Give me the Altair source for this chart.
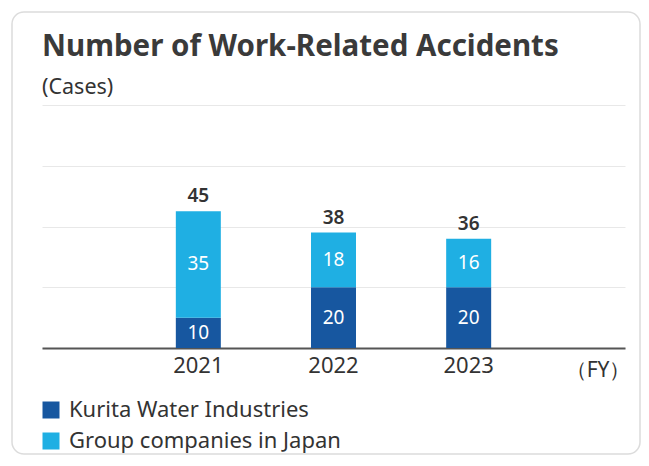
import altair as alt
import pandas as pd

years = ["2021", "2022", "2023"]
series = ["Kurita Water Industries", "Group companies in Japan"]
kurita = [10, 20, 20]
group = [35, 18, 16]
colors = ["#1757a0", "#1fafe3"]
title_text = "Number of Work-Related Accidents"
subtitle_text = "(Cases)"
unit_text = "（FY）"

rows = []
for i, y in enumerate(years):
    rows.append({"year": y, "series": series[0], "value": kurita[i], "ord": 0})
    rows.append({"year": y, "series": series[1], "value": group[i], "ord": 1})
df = pd.DataFrame(rows)

FONT = "Noto Sans"
W, H = 583, 243

xscale = alt.Scale(domain=years, paddingInner=0.667, paddingOuter=0.99)
yscale = alt.Scale(domain=[0, 80])

base = alt.Chart(df)

bars = base.mark_bar(size=45).encode(
    x=alt.X("year:N", scale=xscale, sort=years,
            axis=alt.Axis(title=unit_text, titleAngle=0, titleAlign="right", titleBaseline="middle",
                          titleX=W + 5, titleY=22, titleFontSize=21, titleFontWeight="normal",
                          titleColor="#333", titleFont=FONT,
                          labelAngle=0, labelFontSize=22, labelColor="#333", labelFont=FONT,
                          labelPadding=7, ticks=False, domainColor="#555", domainWidth=2)),
    y=alt.Y("value:Q", stack="zero", scale=yscale,
            axis=alt.Axis(title=None, labels=False, ticks=False, domain=False,
                          values=[0, 20, 40, 60, 80], gridColor="#e8e8e8", gridWidth=1)),
    color=alt.Color("series:N", scale=alt.Scale(domain=series, range=colors),
                    legend=alt.Legend(title=None, orient="none", legendX=-2, legendY=294,
                                      symbolType="square", symbolSize=289, symbolStrokeWidth=0,
                                      labelFontSize=22, labelFont=FONT, labelColor="#333",
                                      labelLimit=0, rowPadding=9, labelOffset=7)),
    order=alt.Order("ord:Q", sort="ascending"),
)

inner = base.transform_stack(
    stack="value", groupby=["year"], as_=["y0", "y1"],
    sort=[alt.SortField("ord", order="ascending")]
).transform_calculate(mid="(datum.y0 + datum.y1) / 2").mark_text(
    color="white", fontSize=19, font=FONT, baseline="middle"
).encode(
    x=alt.X("year:N", scale=xscale, sort=years),
    y=alt.Y("mid:Q", scale=yscale),
    text=alt.Text("value:Q"),
)

totals = base.transform_aggregate(total="sum(value)", groupby=["year"]).mark_text(
    color="#333", fontSize=19, font=FONT, fontWeight=600, baseline="bottom", dy=-5
).encode(
    x=alt.X("year:N", scale=xscale, sort=years),
    y=alt.Y("total:Q", scale=yscale),
    text=alt.Text("total:Q"),
)

card = alt.Chart(alt.Data(values=[{"k": 1}])).mark_rect(
    fill="transparent", stroke="#dcdcdc", strokeWidth=1.5, cornerRadius=12, clip=False
).encode(
    x=alt.value(-30), x2=alt.value(598), y=alt.value(-93), y2=alt.value(349)
)

title = alt.Chart(alt.Data(values=[{"t": title_text}])).mark_text(
    align="left", baseline="alphabetic", font=FONT, fontSize=29.5, fontWeight="bold", color="#3a3a3a"
).encode(x=alt.value(0), y=alt.value(-49), text="t:N")

subtitle = alt.Chart(alt.Data(values=[{"t": subtitle_text}])).mark_text(
    align="left", baseline="alphabetic", font=FONT, fontSize=21.5, color="#333"
).encode(x=alt.value(0), y=alt.value(-11), text="t:N")

chart = alt.layer(card, title, subtitle, bars, inner, totals).properties(
    width=W, height=H,
    padding={"left": 34, "top": 97, "right": 16, "bottom": 108},
    autosize=alt.AutoSizeParams(type="none"),
).configure(background="white").configure_view(stroke=None)

chart.save("out.html", embed_options={"renderer": "svg", "actions": False})
